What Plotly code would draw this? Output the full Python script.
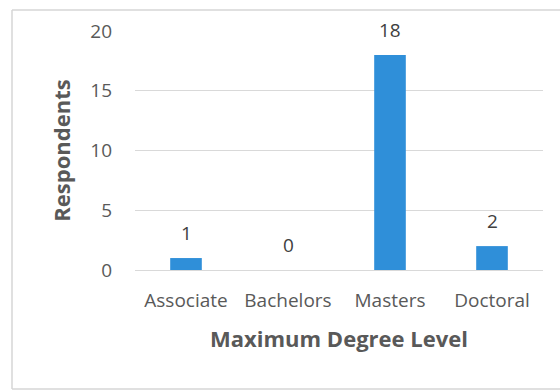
import plotly.graph_objects as go

# Survey responses by highest degree held
degree_levels = ["Associate", "Bachelors", "Masters", "Doctoral"]
respondents = [1, 0, 18, 2]
y_ticks = [0, 5, 10, 15, 20]

bar_color = "#2F8FD9"
axis_text = "#595959"
label_text = "#404040"
grid_color = "#D9D9D9"
font_family = "'Open Sans', sans-serif"

fig = go.Figure()
fig.add_trace(go.Bar(
    x=degree_levels,
    y=respondents,
    marker=dict(color=bar_color, line=dict(width=0)),
    hoverinfo="x+y",
))

# Value labels sitting above each bar
for cat, val in zip(degree_levels, respondents):
    fig.add_annotation(
        x=cat, y=val, text=str(val), showarrow=False,
        yanchor="middle", yshift=25,
        font=dict(family=font_family, size=19, color=label_text),
    )

# Light frame around the chart area (left, top and bottom edges)
frame = dict(type="line", xref="paper", yref="paper",
             line=dict(color="#D6D6D6", width=1.5))
x_left = (12 - 135) / 408
y_top = 1 + (31 - 10) / 239
y_bot = -(389 - 270) / 239
fig.add_shape(x0=x_left, x1=x_left, y0=y_bot, y1=y_top, **frame)
fig.add_shape(x0=x_left, x1=1.2, y0=y_top, y1=y_top, **frame)
fig.add_shape(x0=x_left, x1=1.2, y0=y_bot, y1=y_bot, **frame)

fig.update_layout(
    width=560, height=391,
    margin=dict(l=135, r=17, t=31, b=121),
    paper_bgcolor="white", plot_bgcolor="white",
    bargap=0.69,
    showlegend=False,
    font=dict(family=font_family, color=axis_text),
    xaxis=dict(
        title=dict(text="<b>Maximum Degree Level</b>",
                   font=dict(size=22, color=axis_text), standoff=19),
        tickfont=dict(size=19, color=axis_text),
        showgrid=False, showline=False, ticks="",
        ticklabelstandoff=17,
    ),
    yaxis=dict(
        title=dict(text="<b>Respondents</b>",
                   font=dict(size=22, color=axis_text), standoff=13),
        range=[0, 20], tickvals=y_ticks,
        tickfont=dict(size=19, color=axis_text),
        showgrid=True, gridcolor=grid_color, gridwidth=1,
        zeroline=True, zerolinecolor=grid_color, zerolinewidth=1,
        showline=False, ticks="",
        ticklabelstandoff=22,
    ),
)

fig.write_html("out.html")
